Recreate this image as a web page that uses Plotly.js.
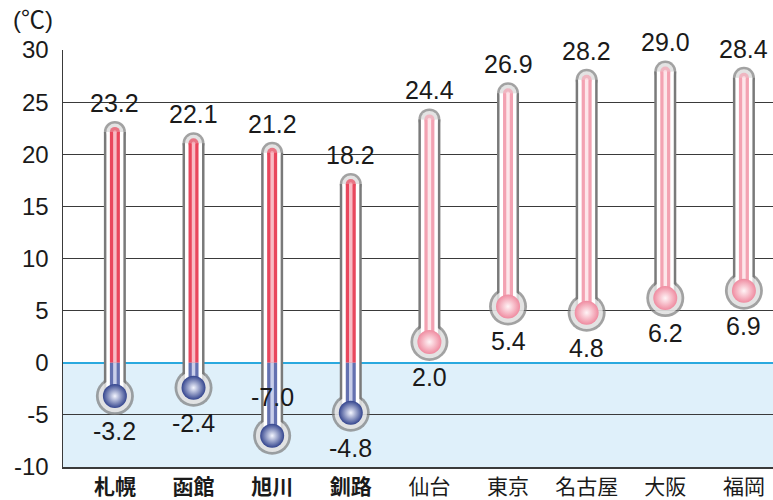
<!DOCTYPE html>
<html>
<head>
<meta charset="utf-8">
<script src="https://cdn.plot.ly/plotly-3.0.1.min.js"></script>
<style>html,body{margin:0;padding:0;background:#fff;}#chart{width:773px;height:500px;}</style>
</head>
<body>
<div id="chart"></div>
<script>
// ---- data ----
const cities = ['札幌', '函館', '旭川', '釧路', '仙台', '東京', '名古屋', '大阪', '福岡'];
const maxTemp = [23.2, 22.1, 21.2, 18.2, 24.4, 26.9, 28.2, 29.0, 28.4];
const minTemp = [-3.2, -2.4, -7.0, -4.8, 2.0, 5.4, 4.8, 6.2, 6.9];
const hokkaido = ['札幌', '函館', '旭川', '釧路'];
const yTickVals = [-10, -5, 0, 5, 10, 15, 20, 25, 30];
const unitLabel = '(℃)';

// ---- layout geometry ----
const W = 773, H = 500;
const M = {l: 63, r: 0, t: 50, b: 33};
const yRange = [-10, 30];
const xRange = [-0.66, 8.37];
const plotH = H - M.t - M.b;
const plotW = W - M.l - M.r;
const u = (yRange[1] - yRange[0]) / plotH; // data units per pixel

const idx = cities.map((c, i) => i);
const isH = cities.map(c => hokkaido.includes(c));
const capC = maxTemp.map(v => v - 11 * u);

function tubeTrace(ids, lo, hi, width, color, bulbSize, capSize) {
  const x = [], y = [], s = [];
  ids.forEach(i => {
    x.push(i, i, null);
    y.push(lo(i), hi(i), null);
    s.push(bulbSize, capSize, 0);
  });
  return {
    type: 'scatter', mode: 'lines+markers', x, y,
    line: {color, width},
    marker: {size: s, color, line: {width: 0}},
    hoverinfo: 'skip', showlegend: false, cliponaxis: false
  };
}
function ballTrace(ids, color, center) {
  return {
    type: 'scatter', mode: 'markers',
    x: ids, y: ids.map(i => minTemp[i]),
    marker: {size: 24, color, line: {width: 0}, gradient: {type: 'radial', color: center}},
    hoverinfo: 'skip', showlegend: false, cliponaxis: false
  };
}

const hIds = idx.filter(i => isH[i]);
const oIds = idx.filter(i => !isH[i]);

const traces = [
  tubeTrace(idx, i => minTemp[i], i => capC[i], 22, '#7a7a7a', 38, 22),
  tubeTrace(idx, i => minTemp[i], i => capC[i], 17, '#ffffff', 32.5, 17),
  // Hokkaido: red above zero, blue below
  tubeTrace(hIds, i => 0, i => capC[i], 10, '#e9475d', 0, 10),
  tubeTrace(hIds, i => minTemp[i], i => 0, 10, '#6471b0', 0, 0),
  tubeTrace(hIds, i => 0, i => capC[i], 3.5, '#f8bcc5', 0, 3.5),
  tubeTrace(hIds, i => minTemp[i], i => 0, 3.5, '#c9cfea', 0, 0),
  // others: pink
  tubeTrace(oIds, i => minTemp[i], i => capC[i], 10, '#f3a2b2', 0, 10),
  tubeTrace(oIds, i => minTemp[i], i => capC[i], 3.5, '#fde6ea', 0, 3.5),
  ballTrace(hIds, '#34458e', '#f4f6ff'),
  ballTrace(oIds, '#ef8ba0', '#fff4f6')
];

const labelFont = {family: 'Liberation Sans, Arial, sans-serif', size: 25, color: '#1a1a1a'};
const annotations = [];
idx.forEach(i => {
  annotations.push({
    x: i, y: maxTemp[i], xref: 'x', yref: 'y', text: maxTemp[i].toFixed(1),
    showarrow: false, xanchor: 'center', yanchor: 'bottom', yshift: 2, font: labelFont
  });
  const above = minTemp[i] <= -6; // label placed above the bulb near the bottom edge
  annotations.push({
    x: i, y: minTemp[i], xref: 'x', yref: 'y', text: minTemp[i].toFixed(1),
    showarrow: false, xanchor: 'center', yanchor: 'middle', yshift: above ? 39 : -35, font: labelFont
  });
});
annotations.push({
  x: (33 - M.l) / plotW, y: (H - M.b - 19) / plotH, xref: 'paper', yref: 'paper',
  xanchor: 'center', yanchor: 'middle', text: unitLabel, showarrow: false,
  font: {family: 'Liberation Sans, Noto Sans CJK JP, sans-serif', size: 24, color: '#1a1a1a'}
});

const layout = {
  width: W, height: H, margin: M,
  paper_bgcolor: '#ffffff', plot_bgcolor: '#ffffff',
  hovermode: false, showlegend: false,
  xaxis: {
    range: xRange, tickvals: idx,
    ticktext: cities.map((c, i) => isH[i] ? '<b>' + c + '</b>' : c),
    showgrid: false, zeroline: false, showline: true, linecolor: '#3a3a3a', linewidth: 1.5,
    ticks: '', ticklabelstandoff: 0,
    tickfont: {family: 'Noto Sans CJK JP, sans-serif', size: 21, color: '#1a1a1a'}
  },
  yaxis: {
    range: yRange, tickvals: yTickVals, ticktext: yTickVals.map(String),
    showgrid: true, gridcolor: '#3a3a3a', gridwidth: 1.2,
    zeroline: true, zerolinecolor: '#2aa9df', zerolinewidth: 2.5,
    showline: true, linecolor: '#3a3a3a', linewidth: 1.5,
    ticks: '', ticklabelstandoff: 8,
    tickfont: {family: 'Liberation Sans, Arial, sans-serif', size: 24, color: '#1a1a1a'}
  },
  shapes: [{
    type: 'rect', xref: 'paper', yref: 'y', x0: 0, x1: 1, y0: yRange[0], y1: 0,
    fillcolor: '#dff0fa', line: {width: 0}, layer: 'below'
  }],
  annotations
};

Plotly.newPlot('chart', traces, layout, {displayModeBar: false, staticPlot: true});
</script>
</body>
</html>
